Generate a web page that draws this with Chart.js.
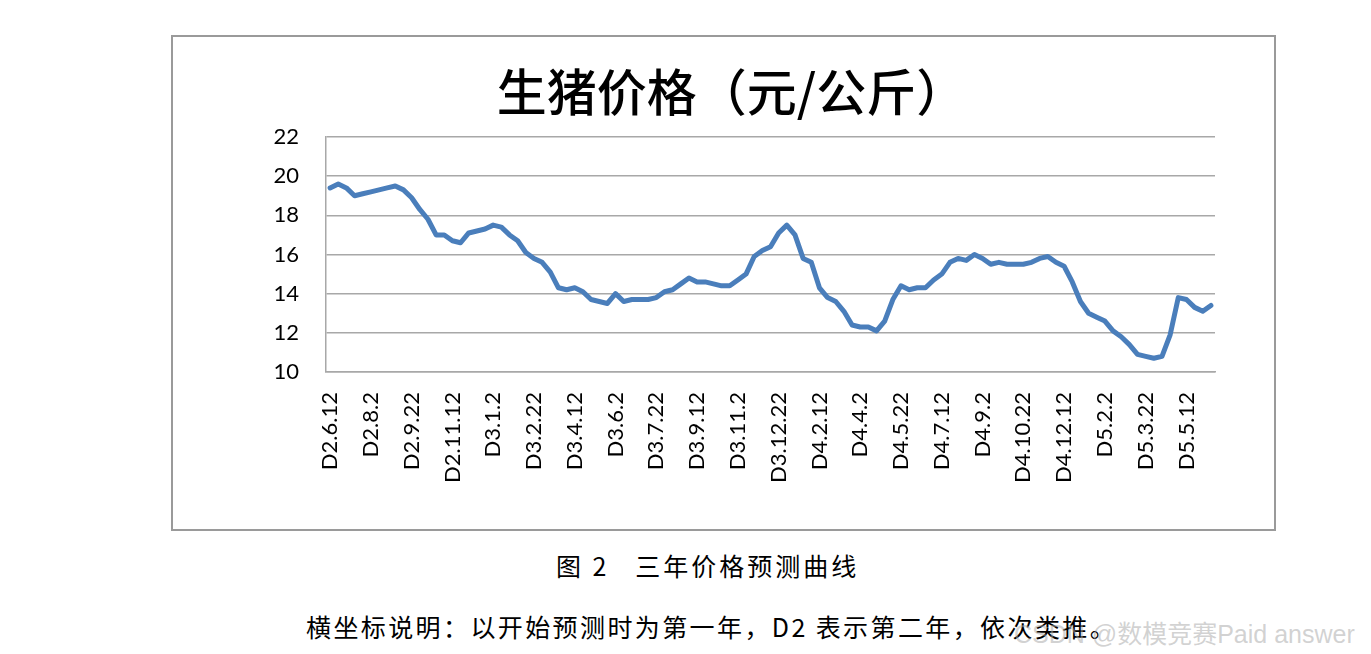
<!DOCTYPE html>
<html>
<head>
<meta charset="utf-8">
<script src="https://cdn.jsdelivr.net/npm/chart.js@4/dist/chart.umd.min.js"></script>
<style>
    body { margin: 0; background: #fff; width: 1371px; height: 654px; overflow: hidden; position: relative; }
    .frame { position: absolute; left: 171px; top: 35px; width: 1101px; height: 492px; border: 2px solid #9a9a9a; }
    .frame canvas { display: block; }
    .caption { position: absolute; font-family: "Noto Sans CJK SC", sans-serif; color: #000; white-space: nowrap; }
    .fig { left: 556px; top: 547px; font-size: 25px; letter-spacing: 3px; }
    .note { left: 306px; top: 608px; font-size: 25px; letter-spacing: 2.4px; }
    .mark { left: 1014px; top: 614px; font-size: 25px; color: rgba(165, 165, 165, 0.5); font-family: "Liberation Sans", "Noto Sans CJK SC", sans-serif; }
</style>
</head>
<body>
<div class="frame"><canvas id="priceChart" width="1101" height="492"></canvas></div>
<div class="caption fig">图 2&nbsp;&nbsp;&nbsp;三年价格预测曲线</div>
<div class="caption note">横坐标说明：以开始预测时为第一年，D2 表示第二年，依次类推。</div>
<div class="caption mark">CSDN @数模竞赛Paid answer</div>
<script>
const chartTitle = '生猪价格（元/公斤）';

// 从 D2.6.12 开始，每 10 天一个点（每月 2、12、22 日）
const startYear = 2;
const startMonth = 6;
const startDayIndex = 1;
const days = [2, 12, 22];
const pointCount = 109;

const prices = [
    19.4, 19.6, 19.4, 19.0, 19.1, 19.2, 19.3, 19.4, 19.5, 19.3,
    18.9, 18.3, 17.8, 17.0, 17.0, 16.7, 16.6, 17.1, 17.2, 17.3,
    17.5, 17.4, 17.0, 16.7, 16.1, 15.8, 15.6, 15.1, 14.3, 14.2,
    14.3, 14.1, 13.7, 13.6, 13.5, 14.0, 13.6, 13.7, 13.7, 13.7,
    13.8, 14.1, 14.2, 14.5, 14.8, 14.6, 14.6, 14.5, 14.4, 14.4,
    14.7, 15.0, 15.9, 16.2, 16.4, 17.1, 17.5, 17.0, 15.8, 15.6,
    14.3, 13.8, 13.6, 13.1, 12.4, 12.3, 12.3, 12.1, 12.6, 13.7,
    14.4, 14.2, 14.3, 14.3, 14.7, 15.0, 15.6, 15.8, 15.7, 16.0,
    15.8, 15.5, 15.6, 15.5, 15.5, 15.5, 15.6, 15.8, 15.9, 15.6,
    15.4, 14.6, 13.6, 13.0, 12.8, 12.6, 12.1, 11.8, 11.4, 10.9,
    10.8, 10.7, 10.8, 11.9, 13.8, 13.7, 13.3, 13.1, 13.4
];

const yMin = 10;
const yMax = 22;
const yStep = 2;
const labelEvery = 5;

const categories = [];
let year = startYear, month = startMonth, d = startDayIndex;
for (let i = 0; i < pointCount; i++) {
    categories.push('D' + year + '.' + month + '.' + days[d]);
    d++;
    if (d === days.length) {
        d = 0;
        month++;
        if (month > 12) { month = 1; year++; }
    }
}

const gridColor = '#a8a8a8';
const tickFont = { family: 'Lato, "Liberation Sans", sans-serif', size: 22 };

const priceChart = new Chart(document.getElementById('priceChart'), {
    type: 'line',
    data: {
        labels: categories,
        datasets: [{
            data: prices,
            borderColor: '#4a7ebb',
            borderWidth: 5,
            pointRadius: 0,
            tension: 0,
            borderJoinStyle: 'round',
            borderCapStyle: 'round',
            fill: false
        }]
    },
    options: {
        responsive: false,
        animation: false,
        devicePixelRatio: 1,
        layout: { padding: { left: 16, right: 0, top: 0, bottom: 0 } },
        plugins: {
            legend: { display: false },
            tooltip: { enabled: false },
            title: {
                display: true,
                text: chartTitle,
                color: '#000',
                font: { family: '"Noto Sans CJK SC", sans-serif', size: 50, weight: '500', lineHeight: 1.2 },
                padding: { top: 25, bottom: 15 }
            }
        },
        scales: {
            x: {
                offset: true,
                grid: { display: false, drawTicks: false },
                border: { display: true, color: gridColor, width: 1.5 },
                ticks: {
                    autoSkip: false,
                    maxRotation: 90,
                    minRotation: 90,
                    padding: 20,
                    color: '#000',
                    font: tickFont,
                    callback: (value, index) => index % labelEvery === 0 ? categories[index] : ''
                },
                afterFit: scale => { scale.height = 157; }
            },
            y: {
                min: yMin,
                max: yMax,
                grid: { color: gridColor, lineWidth: 1.5, drawTicks: false },
                border: { display: true, color: gridColor, width: 1.5 },
                ticks: { stepSize: yStep, padding: 27, color: '#000', font: tickFont },
                afterFit: scale => { scale.width = 137; }
            },
            yRight: {
                position: 'right',
                grid: { display: false, drawTicks: false },
                border: { display: false },
                ticks: { display: false },
                afterFit: scale => { scale.width = 59; }
            }
        }
    }
});
</script>
</body>
</html>
